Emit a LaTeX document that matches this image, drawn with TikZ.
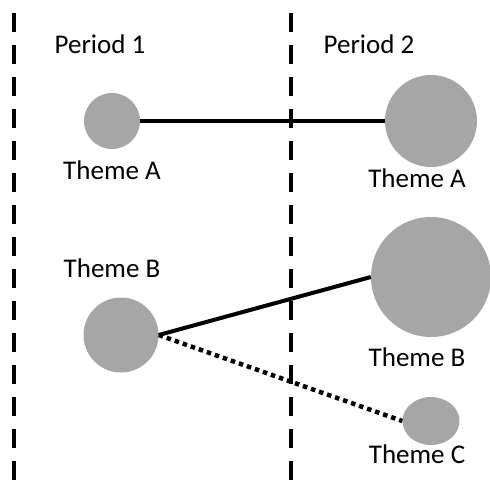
\documentclass[tikz,border=0pt]{standalone}
\usepackage{fontspec}
\setmainfont{Carlito}
\usepackage{xcolor}
\usepackage{tikz}
\usetikzlibrary{shapes.geometric}
\definecolor{themegray}{RGB}{166,166,166}

\begin{document}
\begin{tikzpicture}[x=1pt, y=-1pt,
    theme/.style={circle, fill=themegray, inner sep=0pt},
    lbl/.style={anchor=base, inner sep=0pt, font=\fontsize{27}{32}\selectfont},
    period/.style={line width=4.5pt, dash pattern=on 19pt off 13pt},
    link/.style={line width=4pt}]
        \useasboundingbox (0,0) rectangle (490,493);

        % Period boundaries
        \coordinate (lefttop) at (14,13);
        \coordinate (leftbot) at (14,493);
        \coordinate (midtop) at (291,13);
        \coordinate (midbot) at (291,493);
        \draw[period] (lefttop) -- (leftbot);
        \draw[period] (midtop) -- (midbot);

        % Period titles
        \node[lbl] (per1) at (100,53) {Period 1};
        \node[lbl] (per2) at (369,53) {Period 2};

        % Themes in period 1
        \node[theme, minimum size=56pt] (a1) at (112,121) {};
        \node[lbl] (a1lbl) at (112,179) {Theme A};
        \node[theme, minimum size=75pt] (b1) at (121,335) {};
        \node[lbl] (b1lbl) at (112,277) {Theme B};

        % Themes in period 2
        \node[theme, minimum size=92pt] (a2) at (431,121) {};
        \node[lbl] (a2lbl) at (417,187) {Theme A};
        \node[theme, minimum size=120pt] (b2) at (431,277) {};
        \node[lbl] (b2lbl) at (417,366) {Theme B};
        \node[ellipse, fill=themegray, inner sep=0pt, minimum width=57pt, minimum height=48pt] (c2) at (431,421) {};
        \node[lbl] (c2lbl) at (417,463) {Theme C};

        % Links between periods
        \draw[link] (a1.east) -- (a2.west);
        \draw[link] (b1.east) -- (b2.west);
        \draw[line width=4.5pt, dash pattern=on 4.5pt off 4pt] (b1.east) -- (c2.west);
    \end{tikzpicture}
\end{document}
